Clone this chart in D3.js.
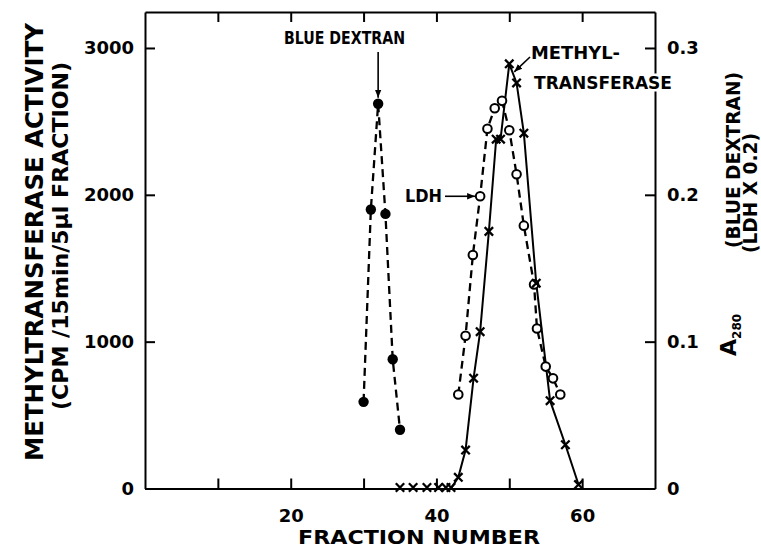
<!DOCTYPE html>
<html>
<head>
<meta charset="utf-8">
<script src="https://cdn.jsdelivr.net/npm/d3@7"></script>
<style>
  body { margin: 0; background: #fff; }
  svg { display: block; }
  text { font-family: "DejaVu Sans", sans-serif; font-weight: bold; fill: #000; }
</style>
</head>
<body>
<div class="chart"></div>
<script>
// Blue dextran (filled circles, dashed), A280
var bdFraction = [30, 31, 32, 33, 34, 35];
var bdA280 = [0.059, 0.190, 0.262, 0.187, 0.088, 0.040];

// LDH (open circles, dashed), A280 x 0.2
var ldhFraction = [43, 44, 45, 46, 47, 48, 49, 50, 51, 52, 53.4, 53.8, 55, 56, 57];
var ldhA280 = [0.064, 0.104, 0.159, 0.199, 0.245, 0.259, 0.264, 0.244, 0.214, 0.179, 0.139, 0.109, 0.083, 0.075, 0.064];

// Methyltransferase activity (crosses, solid), CPM
var mtFraction = [35, 36.8, 38.7, 40.3, 41.3, 42, 43, 44, 45.1, 46, 47.2, 48.2, 48.8, 50, 51, 52, 53.7, 55.6, 57.7, 59.5];
var mtCpm = [0, 0, 0, 0, 0, 0, 76, 262, 751, 1068, 1751, 2379, 2379, 2892, 2762, 2420, 1398, 598, 298, 27];

var xTicks = [10, 20, 30, 40, 50, 60];
var xLabels = [20, 40, 60];
var cpmTicks = [0, 1000, 2000, 3000];
var aTicks = [0, 0.1, 0.2, 0.3];

(function(htmldoc){

    var width = 761, height = 547;
    var left = 145, right = 655, top = 12, bottom = 488.5;

    var svg = d3.select(".chart").append("svg")
                .attr("width", width)
                .attr("height", height);

    var x = d3.scaleLinear().domain([0, 70]).range([left, right]);
    var y = d3.scaleLinear().domain([0, 3245]).range([bottom, top]);
    var yA = d3.scaleLinear().domain([0, 0.3245]).range([bottom, top]);

    // marker for arrows
    svg.append("defs").append("marker")
        .attr("id", "arrow")
        .attr("viewBox", "0 0 10 10")
        .attr("refX", 10).attr("refY", 5)
        .attr("markerWidth", 5).attr("markerHeight", 5)
        .attr("markerUnits", "strokeWidth")
        .attr("orient", "auto")
        .append("path")
        .attr("d", "M0,1 L10,5 L0,9 Z")
        .attr("fill", "#000");

    function styleAxis(g, fontSize) {
        g.select(".domain").attr("stroke-width", 2);
        g.selectAll(".tick line").attr("stroke-width", 2);
        g.selectAll("text")
            .attr("font-size", fontSize)
            .attr("font-family", "DejaVu Sans")
            .attr("font-weight", "bold");
    }

    // axes (ticks point inward)
    svg.append("g")
        .attr("transform", "translate(0," + bottom + ")")
        .call(d3.axisBottom(x).tickValues(xTicks).tickSize(-10).tickSizeOuter(0)
              .tickPadding(21)
              .tickFormat(function(d){ return xLabels.indexOf(d) >= 0 ? d : ""; }))
        .call(styleAxis, 18);

    svg.append("g")
        .attr("transform", "translate(0," + top + ")")
        .call(d3.axisTop(x).tickValues(xTicks).tickSize(-10).tickSizeOuter(0).tickFormat(""))
        .call(styleAxis, 18);

    svg.append("g")
        .attr("transform", "translate(" + left + ",0)")
        .call(d3.axisLeft(y).tickValues(cpmTicks).tickSize(-10).tickSizeOuter(0)
              .tickPadding(11).tickFormat(d3.format("d")))
        .call(styleAxis, 18);

    var rightAxis = svg.append("g")
        .attr("transform", "translate(" + right + ",0)")
        .call(d3.axisRight(yA).tickValues(aTicks).tickSize(-10).tickSizeOuter(0)
              .tickPadding(12)
              .tickFormat(function(d){ return d === 0 ? "0" : d.toFixed(1); }))
        .call(styleAxis, 18);

    // lines
    var line = d3.line().x(function(d){ return x(d[0]); }).y(function(d){ return d[1]; });

    var bdPts = bdFraction.map(function(f, i){ return [f, yA(bdA280[i])]; });
    var ldhPts = ldhFraction.map(function(f, i){ return [f, yA(ldhA280[i])]; });
    var mtPts = mtFraction.map(function(f, i){ return [f, y(mtCpm[i])]; });

    svg.append("path").datum(bdPts)
        .attr("d", line).attr("fill", "none").attr("stroke", "#000")
        .attr("stroke-width", 2.3).attr("stroke-dasharray", "8,5");

    svg.append("path").datum(ldhPts)
        .attr("d", line).attr("fill", "none").attr("stroke", "#000")
        .attr("stroke-width", 2.3).attr("stroke-dasharray", "8,5");

    svg.append("path").datum(mtPts.slice(5))
        .attr("d", line).attr("fill", "none").attr("stroke", "#000")
        .attr("stroke-width", 2);

    // markers
    svg.append("g").selectAll("circle")
        .data(bdPts).enter().append("circle")
        .attr("cx", function(d){ return x(d[0]); })
        .attr("cy", function(d){ return d[1]; })
        .attr("r", 5.2).attr("fill", "#000");

    svg.append("g").selectAll("circle")
        .data(ldhPts).enter().append("circle")
        .attr("cx", function(d){ return x(d[0]); })
        .attr("cy", function(d){ return d[1]; })
        .attr("r", 4.3).attr("fill", "#fff")
        .attr("stroke", "#000").attr("stroke-width", 2);

    var s = 4.2;
    svg.append("g").selectAll("path")
        .data(mtPts).enter().append("path")
        .attr("d", function(d){
            var cx = x(d[0]), cy = Math.min(d[1], bottom - 1);
            return "M" + (cx - s) + "," + (cy - s) + "L" + (cx + s) + "," + (cy + s) +
                   "M" + (cx - s) + "," + (cy + s) + "L" + (cx + s) + "," + (cy - s);
        })
        .attr("stroke", "#000").attr("stroke-width", 2.3).attr("fill", "none");

    // annotations
    function label(txt, tx, ty, size, len) {
        var t = svg.append("text").attr("x", tx).attr("y", ty)
            .attr("font-size", size).text(txt);
        if (len) t.attr("textLength", len).attr("lengthAdjust", "spacingAndGlyphs");
        return t;
    }

    label("BLUE DEXTRAN", 284, 44, 17, 121);
    svg.append("line")
        .attr("x1", x(32)).attr("y1", 52)
        .attr("x2", x(32)).attr("y2", yA(bdA280[2]) - 6)
        .attr("stroke", "#000").attr("stroke-width", 1.6)
        .attr("marker-end", "url(#arrow)");

    label("METHYL-", 531, 58.5, 17, 89);
    var tr = label("TRANSFERASE", 534, 88.5, 17, 138);
    var bb = tr.node().getBBox();
    svg.insert("rect", function(){ return tr.node(); })
        .attr("x", bb.x - 1).attr("y", bb.y + 1)
        .attr("width", bb.width + 2).attr("height", bb.height - 2)
        .attr("fill", "#fff");
    svg.append("line")
        .attr("x1", 530).attr("y1", 57)
        .attr("x2", x(50) + 5).attr("y2", y(2892) + 8)
        .attr("stroke", "#000").attr("stroke-width", 1.6)
        .attr("marker-end", "url(#arrow)");

    label("LDH", 405, 201.5, 17, 37);
    svg.append("line")
        .attr("x1", 445).attr("y1", yA(ldhA280[3]))
        .attr("x2", x(46) - 5).attr("y2", yA(ldhA280[3]))
        .attr("stroke", "#000").attr("stroke-width", 1.6)
        .attr("marker-end", "url(#arrow)");

    // axis titles
    label("FRACTION NUMBER", 298, 544, 19, 242);

    svg.append("text")
        .attr("transform", "translate(43,242) rotate(-90)")
        .attr("text-anchor", "middle").attr("font-size", 25)
        .attr("textLength", 438).attr("lengthAdjust", "spacingAndGlyphs")
        .text("METHYLTRANSFERASE ACTIVITY");

    svg.append("text")
        .attr("transform", "translate(68,236) rotate(-90)")
        .attr("text-anchor", "middle").attr("font-size", 21)
        .attr("textLength", 348).attr("lengthAdjust", "spacingAndGlyphs")
        .text("(CPM /15min/5µl FRACTION)");

    var a = svg.append("text")
        .attr("transform", "translate(736,356) rotate(-90)")
        .attr("font-size", 22);
    a.append("tspan").text("A");
    a.append("tspan").attr("font-size", 12).attr("dy", 5).text("280");

    svg.append("text")
        .attr("transform", "translate(740,160) rotate(-90)")
        .attr("text-anchor", "middle").attr("font-size", 20)
        .attr("textLength", 176).attr("lengthAdjust", "spacingAndGlyphs")
        .text("(BLUE DEXTRAN)");

    svg.append("text")
        .attr("transform", "translate(757,193) rotate(-90)")
        .attr("text-anchor", "middle").attr("font-size", 20)
        .attr("textLength", 120).attr("lengthAdjust", "spacingAndGlyphs")
        .text("(LDH X 0.2)");

})(document);
</script>
</body>
</html>
